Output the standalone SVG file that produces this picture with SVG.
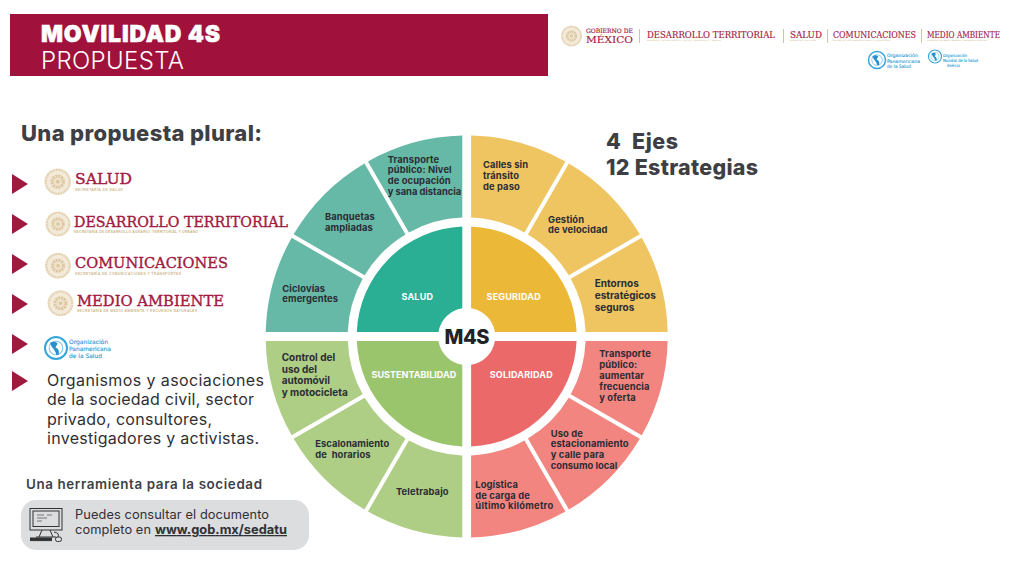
<svg xmlns="http://www.w3.org/2000/svg" xmlns:xlink="http://www.w3.org/1999/xlink" width="1022" height="564" viewBox="0 0 1022 564">
<style>
text{font-family:Inter,"Liberation Sans",sans-serif}
.lb{font-size:9.4px;font-weight:700;fill:#2c2c34;letter-spacing:.1px}
.lb2{font-size:10px;font-weight:700;fill:#2c2c34}
.core{font-size:9px;font-weight:700;fill:#fff;text-anchor:middle;letter-spacing:.2px}
.h2{font-weight:800;fill:#3e3f45}
.sec{font-family:"DejaVu Serif","Liberation Serif",serif;fill:#A2193F;stroke:#A2193F;stroke-width:.38}
.sect{font-family:"DejaVu Serif","Liberation Serif",serif;fill:#A2193F;stroke:#A2193F;stroke-width:.15}
.sub{font-family:"Liberation Sans",sans-serif;font-weight:700;fill:#D0B78C}
.ops{font-family:"DejaVu Sans Condensed","Liberation Sans",sans-serif;fill:#1E9AD6;stroke:#1E9AD6;stroke-width:.1}
.body{fill:#303036}
.bar{stroke:#D6C29C;stroke-width:1}
.arrow{fill:#9E1B3D}
</style>
<defs>
<path id="w1" d="M200.95-4.4A201 201 0 0 0 175.06-98.76L104.04-57.76A119 119 0 0 1 118.92-4.4Z"/>
<path id="w2" d="M173.06-102.23A201 201 0 0 0 102.23-173.06L61.22-102.04A119 119 0 0 1 102.04-61.22Z"/>
<path id="w3" d="M98.76-175.06A201 201 0 0 0 4.4-200.95L4.4-118.92A119 119 0 0 1 57.76-104.04Z"/>
<path id="q" d="M4.4-110A110 110 0 0 1 109.9-4.4L28.16-4.4A28.5 28.5 0 0 0 4.4-28.16Z"/>
<g id="seal">
<circle r="1" fill="#F3EADA"/>
<circle r=".9" fill="none" stroke="#DCC6A0" stroke-width=".16" stroke-dasharray=".06 .06"/>
<circle r=".58" fill="#EFE3CD"/>
<circle r=".42" fill="none" stroke="#DCC6A0" stroke-width=".22" stroke-dasharray=".14 .08"/>
<circle r=".14" fill="#DCC6A0"/>
</g>
<g id="ball">
<circle r="1" fill="#fff" stroke="#35A6DC" stroke-width=".18"/>
<circle r=".62" fill="none" stroke="#7CC6EA" stroke-width=".1"/>
<path d="M-.55-.45Q-.1-.7.15-.4L-.05-.05Q.35.1.25.6L.05.65Q-.1.15-.35-.05Z" fill="#2A8FD0"/>
</g>
</defs>

<g id="header">
<rect x="10" y="14" width="538" height="62" fill="#A0123B"/>
<text x="41" y="41.5" font-size="23" font-weight="900" fill="#fff" stroke="#fff" stroke-width=".5" textLength="179">MOVILIDAD 4S</text>
<text x="41" y="69" font-size="24" font-weight="300" fill="#fff" textLength="143">PROPUESTA</text>
</g>

<g id="logos-top">
<use xlink:href="#seal" href="#seal" transform="translate(571.5 36) scale(10.5)"/>
<text class="sect" x="586" y="32.7" font-size="6" textLength="47" lengthAdjust="spacingAndGlyphs">GOBIERNO DE</text>
<text class="sect" x="586" y="43" font-size="10" stroke-width=".3" textLength="47" lengthAdjust="spacingAndGlyphs">MÉXICO</text>
<line class="bar" x1="639.5" y1="29" x2="639.5" y2="43"/>
<text class="sect" x="647" y="37.5" font-size="8.5" textLength="128" lengthAdjust="spacingAndGlyphs">DESARROLLO TERRITORIAL</text>
<text class="sub" x="647" y="41" font-size="1.6" textLength="74">SECRETARÍA DE DESARROLLO AGRARIO, TERRITORIAL Y URBANO</text>
<line class="bar" x1="783.5" y1="29" x2="783.5" y2="43"/>
<text class="sect" x="790" y="37.5" font-size="8.5" textLength="32" lengthAdjust="spacingAndGlyphs">SALUD</text>
<text class="sub" x="790" y="41" font-size="1.6" textLength="26">SECRETARÍA DE SALUD</text>
<line class="bar" x1="827.5" y1="29" x2="827.5" y2="43"/>
<text class="sect" x="833" y="37.5" font-size="8.5" textLength="83" lengthAdjust="spacingAndGlyphs">COMUNICACIONES</text>
<text class="sub" x="833" y="41" font-size="1.6" textLength="57">SECRETARÍA DE COMUNICACIONES Y TRANSPORTES</text>
<line class="bar" x1="921.5" y1="29" x2="921.5" y2="43"/>
<text class="sect" x="927" y="37.5" font-size="8.5" textLength="73" lengthAdjust="spacingAndGlyphs">MEDIO AMBIENTE</text>
<text class="sub" x="927" y="41" font-size="1.6" textLength="60">SECRETARÍA DE MEDIO AMBIENTE Y RECURSOS NATURALES</text>
<use xlink:href="#ball" href="#ball" transform="translate(877 60) scale(8.5)"/>
<text class="ops" x="887" y="57" font-size="4.7" textLength="31" lengthAdjust="spacingAndGlyphs">Organización</text>
<text class="ops" x="887" y="62.5" font-size="4.7" textLength="33" lengthAdjust="spacingAndGlyphs">Panamericana</text>
<text class="ops" x="887" y="68" font-size="4.7" textLength="24" lengthAdjust="spacingAndGlyphs">de la Salud</text>
<use xlink:href="#ball" href="#ball" transform="translate(935 56.5) scale(6.5)"/>
<text class="ops" x="943" y="56.5" font-size="4.2" textLength="24" lengthAdjust="spacingAndGlyphs">Organización</text>
<text class="ops" x="943" y="61.5" font-size="4.2" textLength="35" lengthAdjust="spacingAndGlyphs">Mundial de la Salud</text>
<text class="ops" x="947" y="67" font-size="4.2" textLength="13" lengthAdjust="spacingAndGlyphs">Américas</text>
</g>

<g id="lista">
<text class="h2" x="21" y="141" font-size="22" textLength="241">Una propuesta plural:</text>
<polygon class="arrow" points="12,174 28,184 12,194"/>
<polygon class="arrow" points="12,214 28,224 12,234"/>
<polygon class="arrow" points="12,254 28,264 12,274"/>
<polygon class="arrow" points="12,294 28,304 12,314"/>
<polygon class="arrow" points="12,334 28,344 12,354"/>
<polygon class="arrow" points="12,371 28,381 12,391"/>

<g id="salud">
<use xlink:href="#seal" href="#seal" transform="translate(57.7 181.7) scale(13.3)"/>
<text class="sec" x="75" y="184" font-size="15" textLength="57" lengthAdjust="spacingAndGlyphs">SALUD</text>
<text class="sub" x="75" y="190.7" font-size="3.4" textLength="48">SECRETARÍA DE SALUD</text>
</g>
<g id="desarrollo">
<use xlink:href="#seal" href="#seal" transform="translate(58 224) scale(12.5)"/>
<text class="sec" x="74" y="226.5" font-size="15" textLength="214" lengthAdjust="spacingAndGlyphs">DESARROLLO TERRITORIAL</text>
<text class="sub" x="74" y="233" font-size="3.4" textLength="124">SECRETARÍA DE DESARROLLO AGRARIO, TERRITORIAL Y URBANO</text>
</g>
<g id="comunicaciones">
<use xlink:href="#seal" href="#seal" transform="translate(58 265.7) scale(13)"/>
<text class="sec" x="75" y="268" font-size="15" textLength="153" lengthAdjust="spacingAndGlyphs">COMUNICACIONES</text>
<text class="sub" x="75" y="274.5" font-size="3.4" textLength="106">SECRETARÍA DE COMUNICACIONES Y TRANSPORTES</text>
</g>
<g id="medio-ambiente">
<use xlink:href="#seal" href="#seal" transform="translate(60.5 303.3) scale(13)"/>
<text class="sec" x="77" y="305.5" font-size="15" textLength="147" lengthAdjust="spacingAndGlyphs">MEDIO AMBIENTE</text>
<text class="sub" x="77" y="312" font-size="3.4" textLength="120">SECRETARÍA DE MEDIO AMBIENTE Y RECURSOS NATURALES</text>
</g>
<g id="ops">
<use xlink:href="#ball" href="#ball" transform="translate(56 348) scale(11)"/>
<text class="ops" x="69" y="344" font-size="6" textLength="39" lengthAdjust="spacingAndGlyphs">Organización</text>
<text class="ops" x="69" y="351" font-size="6" textLength="42" lengthAdjust="spacingAndGlyphs">Panamericana</text>
<text class="ops" x="69" y="358" font-size="6" textLength="33" lengthAdjust="spacingAndGlyphs">de la Salud</text>
</g>
<g id="organismos" class="body" font-size="16">
<text x="47" y="386" textLength="217">Organismos y asociaciones</text>
<text x="47" y="405" textLength="207">de la sociedad civil, sector</text>
<text x="47" y="425" textLength="165">privado, consultores,</text>
<text x="47" y="444" textLength="212">investigadores y activistas.</text>
</g>
</g>

<g id="herramienta">
<text x="26" y="488.5" font-size="13.4" font-weight="600" fill="#3e3f45" textLength="236">Una herramienta para la sociedad</text>
<rect x="21" y="500" width="288" height="50" rx="15" fill="#DCDDDF"/>
<g id="icono" fill="none" stroke="#333" stroke-width="1">
<rect x="30" y="508.5" width="32" height="21.5"/>
<rect x="33" y="511" width="26" height="15.5"/>
<path d="M42 530L39 537M50 530L53 537M36 537H56M54 532Q60 533 58 537"/>
<rect x="30.5" y="538" width="21" height="2.6" fill="#333"/>
<rect x="55.5" y="537" width="6" height="4.5" rx="2"/>
<path d="M37 515H44M37 518H47M37 521H42M47 515H52" stroke="#777"/>
</g>
<text class="body" x="75" y="519" font-size="12.8" textLength="194">Puedes consultar el documento</text>
<text class="body" x="75" y="534" font-size="12.8" textLength="76">completo en</text>
<text class="body" x="155" y="534" font-size="12.8" font-weight="700" fill="#4a4a50" text-decoration="underline" textLength="132">www.gob.mx/sedatu</text>
</g>

<g id="ejes" class="h2" font-size="21.5">
<text x="606" y="149">4</text>
<text x="632" y="149" textLength="46">Ejes</text>
<text x="606" y="175" textLength="152">12 Estrategias</text>
</g>

<g id="m4s-rueda" transform="translate(466.7 336.5)">
<g id="eje-salud" fill="#66B9A6" transform="scale(-1 1)">
<use xlink:href="#w1" href="#w1"/><use xlink:href="#w2" href="#w2"/><use xlink:href="#w3" href="#w3"/>
<use xlink:href="#q" href="#q" fill="#2AAE94"/>
</g>
<g id="eje-seguridad" fill="#EFC561">
<use xlink:href="#w1" href="#w1"/><use xlink:href="#w2" href="#w2"/><use xlink:href="#w3" href="#w3"/>
<use xlink:href="#q" href="#q" fill="#ECB837"/>
</g>
<g id="eje-sustentabilidad" fill="#AECE86" transform="scale(-1 -1)">
<use xlink:href="#w1" href="#w1"/><use xlink:href="#w2" href="#w2"/><use xlink:href="#w3" href="#w3"/>
<use xlink:href="#q" href="#q" fill="#9BC56D"/>
</g>
<g id="eje-solidaridad" fill="#F2857F" transform="scale(1 -1)">
<use xlink:href="#w1" href="#w1"/><use xlink:href="#w2" href="#w2"/><use xlink:href="#w3" href="#w3"/>
<use xlink:href="#q" href="#q" fill="#EC696A"/>
</g>
</g>

<g id="etiquetas">
<g id="t-salud">
<text class="lb" x="387.7" y="162.7">Transporte</text>
<text class="lb" x="387.7" y="173.4">público: Nivel</text>
<text class="lb" x="387.7" y="184.3">de ocupación</text>
<text class="lb" x="387.7" y="195" textLength="73.5">y sana distancia</text>
<text class="lb" x="325" y="220">Banquetas</text>
<text class="lb" x="325" y="230.7">ampliadas</text>
<text class="lb" x="282.3" y="291.7">Ciclovías</text>
<text class="lb" x="282.3" y="302.3">emergentes</text>
<text class="core" x="417.3" y="299.7">SALUD</text>
</g>
<g id="t-seguridad">
<text class="lb" x="483" y="168.3">Calles sin</text>
<text class="lb" x="483" y="179">tránsito</text>
<text class="lb" x="483" y="190">de paso</text>
<text class="lb" x="548" y="222.7">Gestión</text>
<text class="lb" x="548" y="233.3">de velocidad</text>
<text class="lb2" x="594.7" y="287.3">Entornos</text>
<text class="lb2" x="594.7" y="299">estratégicos</text>
<text class="lb2" x="594.7" y="310.7">seguros</text>
<text class="core" x="513.7" y="299.7">SEGURIDAD</text>
</g>
<g id="t-sustentabilidad">
<text class="lb2" x="281.7" y="361">Control del</text>
<text class="lb2" x="281.7" y="372.7">uso del</text>
<text class="lb2" x="281.7" y="384.3">automóvil</text>
<text class="lb2" x="281.7" y="396">y motocicleta</text>
<text class="lb" x="315.3" y="447" textLength="74">Escalonamiento</text>
<text class="lb" x="315.3" y="457.7" xml:space="preserve">de  horarios</text>
<text class="lb" x="396" y="495.3">Teletrabajo</text>
<text class="core" x="414" y="378" textLength="85">SUSTENTABILIDAD</text>
</g>
<g id="t-solidaridad">
<text class="lb" x="599.3" y="357">Transporte</text>
<text class="lb" x="599.3" y="367.7">público:</text>
<text class="lb" x="599.3" y="379">aumentar</text>
<text class="lb" x="599.3" y="389.7">frecuencia</text>
<text class="lb" x="599.3" y="400.7">y oferta</text>
<text class="lb" x="550.7" y="436.7">Uso de</text>
<text class="lb" x="550.7" y="447.3" textLength="78">estacionamiento</text>
<text class="lb" x="550.7" y="458.3">y calle para</text>
<text class="lb" x="550.7" y="469.3" textLength="66.7">consumo local</text>
<text class="lb" x="475.3" y="488">Logística</text>
<text class="lb" x="475.3" y="498.7">de carga de</text>
<text class="lb" x="475.3" y="509.3" textLength="78">último kilómetro</text>
<text class="core" x="521.3" y="378">SOLIDARIDAD</text>
</g>
<text id="m4s" x="467" y="344" font-size="20" font-weight="800" fill="#222226" text-anchor="middle" textLength="45">M4S</text>
</g>
</svg>
